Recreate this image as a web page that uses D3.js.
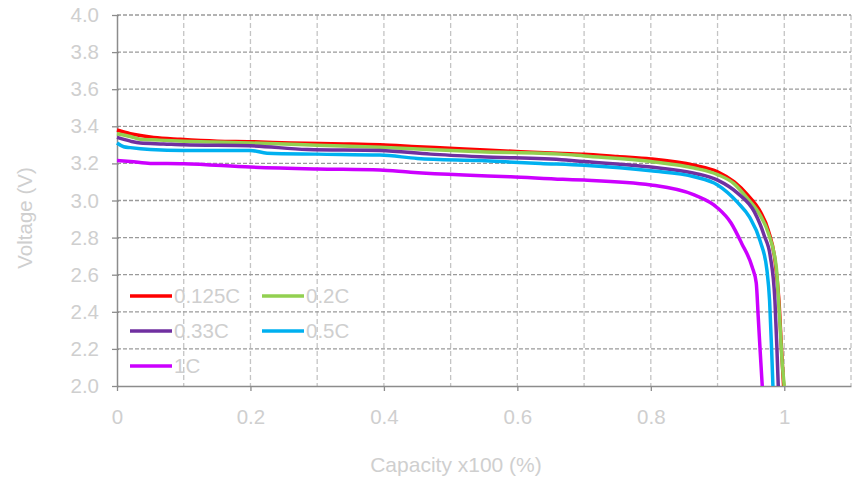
<!DOCTYPE html>
<html>
<head>
<meta charset="utf-8">
<script src="https://cdn.jsdelivr.net/npm/d3@7"></script>
<style>
  html, body { margin: 0; padding: 0; background: #fff; }
  svg { display: block; font-family: "Liberation Sans", Arial, sans-serif; }
</style>
</head>
<body>
<svg id="chart" width="854" height="479"></svg>
<script>
// Discharge curves: capacity fraction vs voltage for each C-rate
const seriesNames = ["0.125C", "0.2C", "0.33C", "0.5C", "1C"];
const seriesColors = ["#ff0000", "#92d050", "#7030a0", "#00b0f0", "#cc00ff"];

const cap0125 = [0, 0.02, 0.035, 0.055, 0.095, 0.15, 0.2, 0.26, 0.34, 0.394, 0.45, 0.52, 0.605, 0.668, 0.7, 0.75, 0.8, 0.865, 0.9, 0.925, 0.945, 0.964, 0.976, 0.986, 0.992, 0.996, 0.999];
const v0125   = [3.38, 3.36, 3.35, 3.34, 3.33, 3.32, 3.317, 3.31, 3.305, 3.30, 3.29, 3.278, 3.263, 3.254, 3.25, 3.237, 3.224, 3.19, 3.155, 3.10, 3.03, 2.94, 2.84, 2.68, 2.46, 2.19, 2.0];

const cap02 = [0, 0.02, 0.035, 0.06, 0.1, 0.2, 0.3, 0.394, 0.544, 0.665, 0.7, 0.8, 0.865, 0.9, 0.925, 0.945, 0.964, 0.976, 0.988, 0.993, 0.997, 1.0];
const v02   = [3.36, 3.345, 3.33, 3.326, 3.32, 3.31, 3.298, 3.287, 3.263, 3.25, 3.24, 3.21, 3.175, 3.14, 3.09, 3.01, 2.92, 2.825, 2.64, 2.37, 2.12, 2.0];

const cap033 = [0, 0.02, 0.035, 0.07, 0.1, 0.2, 0.285, 0.394, 0.47, 0.544, 0.673, 0.7, 0.8, 0.865, 0.9, 0.93, 0.955, 0.964, 0.97, 0.979, 0.986, 0.989, 0.991];
const v033   = [3.34, 3.32, 3.31, 3.305, 3.30, 3.295, 3.275, 3.27, 3.25, 3.236, 3.218, 3.21, 3.18, 3.147, 3.11, 3.04, 2.94, 2.87, 2.81, 2.70, 2.46, 2.20, 2.0];

const cap05 = [0, 0.01, 0.02, 0.05, 0.1, 0.2, 0.225, 0.3, 0.394, 0.45, 0.544, 0.635, 0.7, 0.8, 0.865, 0.9, 0.93, 0.948, 0.964, 0.974, 0.978, 0.981, 0.983];
const v05   = [3.31, 3.29, 3.285, 3.275, 3.27, 3.27, 3.255, 3.25, 3.245, 3.227, 3.215, 3.20, 3.19, 3.16, 3.128, 3.084, 2.99, 2.91, 2.78, 2.625, 2.46, 2.20, 2.0];

const cap1 = [0, 0.02, 0.05, 0.1, 0.2, 0.3, 0.394, 0.44, 0.52, 0.59, 0.668, 0.7, 0.8, 0.865, 0.9, 0.92, 0.936, 0.952, 0.958, 0.961, 0.964, 0.967];
const v1   = [3.215, 3.21, 3.20, 3.198, 3.18, 3.17, 3.164, 3.152, 3.137, 3.128, 3.114, 3.11, 3.084, 3.03, 2.96, 2.88, 2.77, 2.64, 2.555, 2.37, 2.18, 2.0];

const xTicks = [0, 0.2, 0.4, 0.6, 0.8, 1];
const xTickLabels = ["0", "0.2", "0.4", "0.6", "0.8", "1"];
const yTicks = [2.0, 2.2, 2.4, 2.6, 2.8, 3.0, 3.2, 3.4, 3.6, 3.8, 4.0];

const caps = [cap0125, cap02, cap033, cap05, cap1];
const volts = [v0125, v02, v033, v05, v1];
const series = seriesNames.map((name, i) => ({
  name, color: seriesColors[i],
  points: caps[i].map((c, j) => ({ x: c, y: volts[i][j] }))
}));

const svg = d3.select("#chart");
const plotL = 117, plotR = 851, plotT = 15, plotB = 386;
const x = d3.scaleLinear().domain([0, 1.1]).range([plotL, plotR]);
const y = d3.scaleLinear().domain([2, 4]).range([plotB, plotT]);
const textColor = "#cfcfcf";
const font = "Liberation Sans, Arial, sans-serif";
const fontSize = 20.5;

// vertical grid, every 0.1
const vGrid = d3.range(1, 12).map(i => i / 10);
svg.append("g").selectAll("line").data(vGrid).join("line")
  .attr("x1", d => x(d)).attr("x2", d => x(d))
  .attr("y1", plotT).attr("y2", plotB)
  .attr("stroke", "#c4c4c4").attr("stroke-width", 1.3)
  .attr("stroke-dasharray", "5,3");

// horizontal grid, every 0.2 V
svg.append("g").selectAll("line").data(yTicks.slice(1)).join("line")
  .attr("x1", plotL).attr("x2", plotR)
  .attr("y1", d => y(d)).attr("y2", d => y(d))
  .attr("stroke", "#9a9a9a").attr("stroke-width", 1.3)
  .attr("stroke-dasharray", "4,2");

// axes
const xAxis = d3.axisBottom(x).tickValues(xTicks).tickFormat((d, i) => xTickLabels[i])
  .tickSizeInner(5).tickSizeOuter(0).tickPadding(18);
const gx = svg.append("g").attr("transform", `translate(0,${plotB})`).call(xAxis);
gx.select(".domain").attr("stroke", "#8c8c8c").attr("stroke-width", 1.5);
gx.selectAll(".tick line").attr("stroke", "#8c8c8c").attr("stroke-width", 1.3);
gx.selectAll(".tick text").attr("fill", textColor).attr("font-size", fontSize).attr("font-family", font);

const yAxis = d3.axisLeft(y).tickValues(yTicks).tickFormat(d3.format(".1f"))
  .tickSizeInner(5).tickSizeOuter(0).tickPadding(13);
const gy = svg.append("g").attr("transform", `translate(${plotL},0)`).call(yAxis);
gy.select(".domain").attr("stroke", "#8c8c8c").attr("stroke-width", 1.5);
gy.selectAll(".tick line").attr("stroke", "#8c8c8c").attr("stroke-width", 1.3).attr("x1", -5).attr("x2", 2);
gy.selectAll(".tick text").attr("fill", textColor).attr("font-size", fontSize).attr("font-family", font);

// curves
const line = d3.line().x(d => x(d.x)).y(d => y(d.y)).curve(d3.curveMonotoneX);
svg.append("g").selectAll("path").data(series).join("path")
  .attr("d", d => line(d.points))
  .attr("fill", "none")
  .attr("stroke", d => d.color)
  .attr("stroke-width", 3.5)
  .attr("stroke-linejoin", "round");

// legend
const legendPos = [[130, 296], [262, 296], [130, 331], [262, 331], [130, 366]];
const lg = svg.append("g").selectAll("g").data(series).join("g")
  .attr("transform", (d, i) => `translate(${legendPos[i][0]},${legendPos[i][1]})`);
lg.append("line").attr("x1", 0).attr("x2", 42).attr("y1", 0).attr("y2", 0)
  .attr("stroke", d => d.color).attr("stroke-width", 3.5);
lg.append("text").attr("x", 44).attr("y", 7).text(d => d.name)
  .attr("fill", textColor).attr("font-size", fontSize).attr("font-family", font);

// axis titles
svg.append("text").attr("x", 456).attr("y", 472).attr("text-anchor", "middle")
  .attr("fill", textColor).attr("font-size", 21).attr("font-family", font).text("Capacity x100 (%)");
svg.append("text").attr("transform", "translate(32,218) rotate(-90)").attr("text-anchor", "middle")
  .attr("fill", textColor).attr("font-size", fontSize).attr("font-family", font).text("Voltage (V)");
</script>
</body>
</html>
